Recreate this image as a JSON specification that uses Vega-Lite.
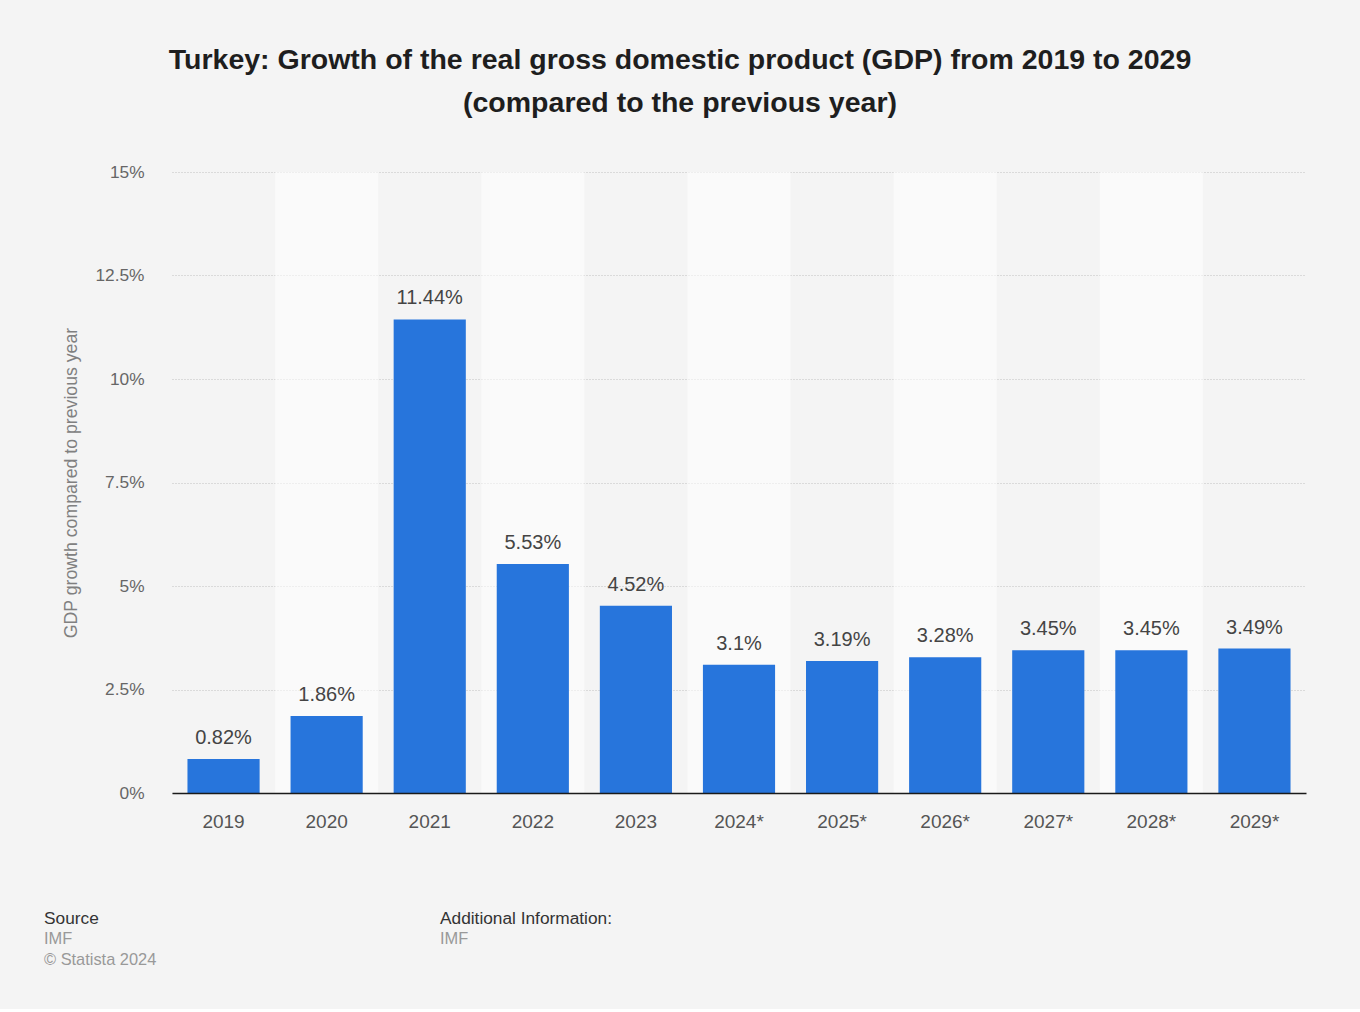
{
  "$schema": "https://vega.github.io/schema/vega-lite/v6.json",
  "background": "#f4f4f4",
  "padding": {"left": 44, "top": 45, "right": 54, "bottom": 40},
  "config": {
    "font": "Liberation Sans",
    "view": {"stroke": null}
  },
  "title": {
    "text": ["Turkey: Growth of the real gross domestic product (GDP) from 2019 to 2029", "(compared to the previous year)"],
    "fontSize": 28.5,
    "fontWeight": "bold",
    "color": "#1e1e1e",
    "lineHeight": 43,
    "anchor": "middle",
    "offset": 46,
    "dx": 5
  },
  "bounds": "flush",
  "spacing": 111,
  "datasets": {
    "gdp": [
      {"year": "2019", "value": 0.82, "stripe": false},
      {"year": "2020", "value": 1.86, "stripe": true},
      {"year": "2021", "value": 11.44, "stripe": false},
      {"year": "2022", "value": 5.53, "stripe": true},
      {"year": "2023", "value": 4.52, "stripe": false},
      {"year": "2024*", "value": 3.1, "stripe": true},
      {"year": "2025*", "value": 3.19, "stripe": false},
      {"year": "2026*", "value": 3.28, "stripe": true},
      {"year": "2027*", "value": 3.45, "stripe": false},
      {"year": "2028*", "value": 3.45, "stripe": true},
      {"year": "2029*", "value": 3.49, "stripe": false}
    ]
  },
  "vconcat": [
    {
      "width": 1134,
      "height": 621,
      "data": {"name": "gdp"},
      "encoding": {
        "x": {
          "field": "year",
          "type": "nominal",
          "sort": null,
          "scale": {"paddingInner": 0, "paddingOuter": 0},
          "axis": {
            "title": null,
            "labelAngle": 0,
            "ticks": false,
            "labelPadding": 19,
            "labelFontSize": 19,
            "labelColor": "#555555",
            "domainColor": "#1a1a1a",
            "domainWidth": 1.5
          }
        }
      },
      "layer": [
        {
          "mark": {"type": "rect", "fill": "#ffffff"},
          "encoding": {
            "y": {"datum": 15, "type": "quantitative", "scale": {"domain": [0, 15], "nice": false}},
            "y2": {"datum": 0},
            "fillOpacity": {"condition": {"test": "datum.stripe", "value": 0.55}, "value": 0}
          }
        },
        {
          "mark": {"type": "bar", "color": "#2775dc", "width": {"band": 0.7}},
          "encoding": {
            "y": {
              "field": "value",
              "type": "quantitative",
              "scale": {"domain": [0, 15], "nice": false},
              "axis": {
                "title": "GDP growth compared to previous year",
                "titleFontSize": 17.7,
                "titleFontWeight": "normal",
                "titleColor": "#808080",
                "titlePadding": 14,
                "values": [0, 2.5, 5, 7.5, 10, 12.5, 15],
                "labelExpr": "datum.value + '%'",
                "labelFontSize": 17.3,
                "labelColor": "#666666",
                "labelPadding": 28,
                "ticks": false,
                "domain": false,
                "grid": true,
                "gridColor": "#c0c0c0",
                "gridDash": [1, 2],
                "gridWidth": 1
              }
            }
          }
        },
        {
          "transform": [{"calculate": "datum.value + '%'", "as": "label"}],
          "mark": {"type": "text", "baseline": "bottom", "dy": -11, "fontSize": 20, "color": "#444444"},
          "encoding": {
            "y": {"field": "value", "type": "quantitative"},
            "text": {"field": "label"}
          }
        }
      ]
    },
    {
      "bounds": "flush",
      "spacing": 0,
      "hconcat": [
        {
          "width": 396,
          "height": 1,
          "data": {"values": [{}]},
          "mark": {"type": "text"},
          "encoding": {},
          "title": {
            "text": "Source",
            "subtitle": ["IMF", "© Statista 2024"],
            "orient": "bottom",
            "anchor": "start",
            "dx": -128,
            "offset": 0,
            "fontSize": 17.3,
            "fontWeight": "normal",
            "color": "#333333",
            "subtitleFontSize": 16.4,
            "subtitleColor": "#999999",
            "subtitleLineHeight": 21,
            "subtitlePadding": 4
          }
        },
        {
          "width": 500,
          "height": 1,
          "data": {"values": [{}]},
          "mark": {"type": "text"},
          "encoding": {},
          "title": {
            "text": "Additional Information:",
            "subtitle": ["IMF"],
            "orient": "bottom",
            "anchor": "start",
            "dx": -128,
            "offset": 0,
            "fontSize": 17.3,
            "fontWeight": "normal",
            "color": "#333333",
            "subtitleFontSize": 16.4,
            "subtitleColor": "#999999",
            "subtitleLineHeight": 21,
            "subtitlePadding": 4
          }
        }
      ]
    }
  ]
}
